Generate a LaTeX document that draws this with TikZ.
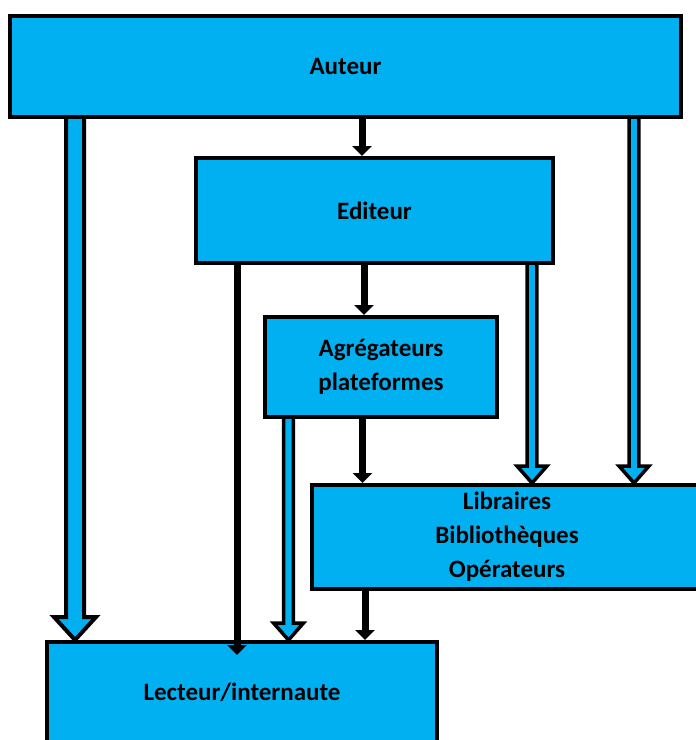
\documentclass[tikz,border=0pt]{standalone}
\usepackage{fontspec}
\setmainfont{Carlito}
\usetikzlibrary{arrows.meta,calc}
\definecolor{boxcyan}{RGB}{0,176,240}
\tikzset{
  box/.style={draw=black, fill=boxcyan, line width=4pt, rectangle, inner sep=0pt,
    align=center, font=\fontsize{25}{34}\selectfont\bfseries},
  thinarrow/.style={draw=black, line width=7pt,
    -{Triangle[width=19pt,length=10pt]}},
  blk/.style={draw=black, fill=boxcyan, line width=3.5pt, line join=miter},
  blkbig/.style={draw=black, fill=boxcyan, line width=4pt, line join=miter}
}
% #1 style, #2 x, #3 from, #4 to, #5 half shaft, #6 half head, #7 head length
\newcommand\blkarrow[7]{%
  \path[#1] let \p1=(#3.south), \p2=(#4.north) in
    (#2pt-#5pt,\y1) -- (#2pt-#5pt,\y2+#7pt) -- (#2pt-#6pt,\y2+#7pt) -- (#2pt,\y2)
    -- (#2pt+#6pt,\y2+#7pt) -- (#2pt+#5pt,\y2+#7pt) -- (#2pt+#5pt,\y1);%
}
\begin{document}
\begin{tikzpicture}[x=1pt,y=-1pt]
\useasboundingbox (0,0) rectangle (696,740);
\clip (0,0) rectangle (696,740);
\fill[white] (0,0) rectangle (696,740);

\node[box, minimum width=671pt, minimum height=101.5pt] (auteur) at (345.5,66.3) {Auteur};
\node[box, minimum width=357pt, minimum height=105pt] (editeur) at (374.5,210.5) {Editeur};
\node[box, minimum width=232pt, minimum height=100pt] (agreg) at (381,367) {Agrégateurs\\plateformes};
\node[box, minimum width=390pt, minimum height=104pt] (libr) at (507,537) {Libraires\\Bibliothèques\\Opérateurs};
\node[box, minimum width=390pt, minimum height=100pt] (lecteur) at (242,692) {Lecteur/internaute};

% block arrows
\blkarrow{blkbig}{75}{auteur}{lecteur}{9}{21}{23}
\blkarrow{blk}{634}{auteur}{libr}{4.8}{15}{17}
\blkarrow{blk}{532}{editeur}{libr}{4.8}{15}{17}
\blkarrow{blk}{288.5}{agreg}{lecteur}{4.8}{15}{17}

% thin arrows
\draw[thinarrow] (auteur.south -| 362,0) -- (editeur.north -| 362,0);
\draw[thinarrow] (editeur.south -| 364,0) -- (agreg.north -| 364,0);
\draw[thinarrow, shorten >=-15pt] (editeur.south -| 237,0) -- (lecteur.north -| 237,0);
\draw[thinarrow] (agreg.south -| 362.5,0) -- (libr.north -| 362.5,0);
\draw[thinarrow] (libr.south -| 365,0) -- (lecteur.north -| 365,0);
\end{tikzpicture}
\end{document}
